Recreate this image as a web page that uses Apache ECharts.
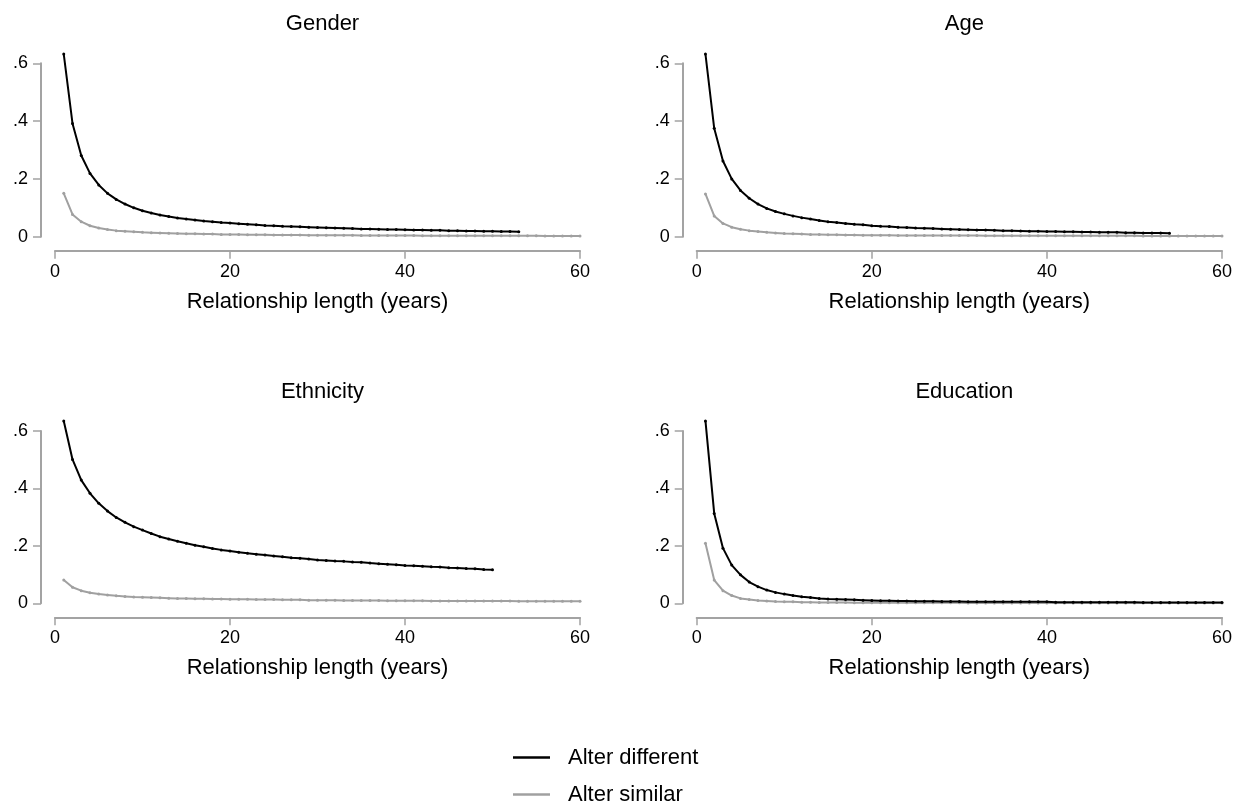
<!DOCTYPE html>
<html>
<head>
<meta charset="utf-8">
<script src="https://cdn.jsdelivr.net/npm/echarts@6/dist/echarts.min.js"></script>
<style>
html,body{margin:0;padding:0;background:#fff;}
#chart{width:1239px;height:805px;}
</style>
</head>
<body>
<div id="chart"></div>
<script>
// ---- Data (x = relationship length in years, starting at 1) ----
var panelTitles = ["Gender", "Age", "Ethnicity", "Education"];
var seriesNames = ["Alter different", "Alter similar"];
var xTicks = [0, 20, 40, 60];
var yTicks = [0, 0.2, 0.4, 0.6];
var yTickLabels = ["0", ".2", ".4", ".6"];

var genderDifferent = [0.632,0.392,0.281,0.219,0.179,0.150,0.129,0.113,0.100,0.090,
  0.082,0.075,0.070,0.065,0.061,0.058,0.054,0.052,0.049,0.047,
  0.045,0.043,0.041,0.039,0.038,0.036,0.035,0.034,0.033,0.032,
  0.031,0.030,0.029,0.028,0.027,0.027,0.026,0.025,0.025,0.024,
  0.023,0.023,0.022,0.022,0.021,0.021,0.020,0.020,0.019,0.019,
  0.018,0.018,0.017];
var genderSimilar = [0.150,0.077,0.052,0.038,0.030,0.025,0.021,0.019,0.017,0.015,
  0.014,0.013,0.012,0.011,0.010,0.010,0.009,0.009,0.008,0.008,
  0.008,0.007,0.007,0.007,0.006,0.006,0.006,0.006,0.005,0.005,
  0.005,0.005,0.005,0.005,0.004,0.004,0.004,0.004,0.004,0.004,
  0.004,0.003,0.003,0.003,0.003,0.003,0.003,0.003,0.003,0.003,
  0.003,0.003,0.003,0.003,0.003,0.002,0.002,0.002,0.002,0.002];

var ageDifferent = [0.632,0.375,0.262,0.200,0.160,0.133,0.113,0.098,0.087,0.079,
  0.072,0.066,0.061,0.056,0.052,0.049,0.046,0.043,0.041,0.038,
  0.036,0.035,0.033,0.032,0.030,0.029,0.028,0.027,0.026,0.025,
  0.024,0.023,0.023,0.022,0.021,0.021,0.020,0.019,0.019,0.018,
  0.018,0.017,0.017,0.016,0.016,0.015,0.015,0.015,0.014,0.014,
  0.013,0.013,0.013,0.012];
var ageSimilar = [0.148,0.072,0.046,0.033,0.026,0.021,0.018,0.015,0.013,0.011,
  0.010,0.009,0.008,0.008,0.007,0.007,0.006,0.006,0.005,0.005,
  0.005,0.005,0.004,0.004,0.004,0.004,0.004,0.004,0.004,0.004,
  0.004,0.004,0.003,0.003,0.003,0.003,0.003,0.003,0.003,0.003,
  0.003,0.003,0.003,0.003,0.003,0.003,0.003,0.003,0.003,0.003,
  0.002,0.002,0.002,0.002,0.002,0.002,0.002,0.002,0.002,0.002];

var ethnicityDifferent = [0.635,0.501,0.429,0.383,0.348,0.321,0.299,0.282,0.267,0.255,
  0.243,0.232,0.224,0.216,0.209,0.202,0.197,0.191,0.186,0.182,
  0.178,0.174,0.171,0.168,0.165,0.162,0.159,0.157,0.154,0.151,
  0.149,0.147,0.146,0.144,0.143,0.140,0.138,0.136,0.134,0.132,
  0.131,0.129,0.127,0.126,0.124,0.123,0.121,0.120,0.118,0.117];
var ethnicitySimilar = [0.081,0.056,0.044,0.037,0.032,0.029,0.026,0.024,0.022,0.021,
  0.020,0.019,0.018,0.017,0.017,0.016,0.016,0.015,0.015,0.014,
  0.014,0.014,0.013,0.013,0.013,0.012,0.012,0.012,0.011,0.011,
  0.011,0.011,0.010,0.010,0.010,0.010,0.010,0.009,0.009,0.009,
  0.009,0.009,0.008,0.008,0.008,0.008,0.008,0.008,0.008,0.008,
  0.008,0.008,0.007,0.007,0.007,0.007,0.007,0.007,0.007,0.007];

var educationDifferent = [0.635,0.313,0.192,0.133,0.099,0.074,0.058,0.046,0.038,0.032,
  0.027,0.023,0.020,0.017,0.015,0.014,0.013,0.012,0.011,0.010,
  0.009,0.009,0.008,0.008,0.007,0.007,0.007,0.006,0.006,0.006,
  0.005,0.005,0.005,0.005,0.005,0.005,0.005,0.005,0.005,0.005,
  0.004,0.004,0.004,0.004,0.004,0.004,0.004,0.004,0.004,0.004,
  0.003,0.003,0.003,0.003,0.003,0.003,0.003,0.003,0.003,0.003];
var educationSimilar = [0.209,0.081,0.044,0.027,0.017,0.013,0.010,0.008,0.006,0.005,
  0.005,0.004,0.004,0.003,0.003,0.003,0.003,0.002,0.002,0.002,
  0.002,0.002,0.002,0.002,0.002,0.002,0.002,0.002,0.002,0.002,
  0.001,0.001,0.001,0.001,0.001,0.001,0.001,0.001,0.001,0.001,
  0.001,0.001,0.001,0.001,0.001,0.001,0.001,0.001,0.001,0.001,
  0.001,0.001,0.001,0.001,0.001,0.001,0.001,0.001,0.001,0.001];

var panelDifferent = [genderDifferent, ageDifferent, ethnicityDifferent, educationDifferent];
var panelSimilar = [genderSimilar, ageSimilar, ethnicitySimilar, educationSimilar];

// ---- Layout / styling ----
var FONT = '"Liberation Sans", Arial, Helvetica, sans-serif';
var AXIS_GRAY = '#a3a3a3';
var SIMILAR_GRAY = '#a0a0a0';
var grids = [
  {left: 55, top: 63.3, width: 525, height: 173.4},
  {left: 696.7, top: 63.3, width: 525.3, height: 173.4},
  {left: 55, top: 431, width: 525, height: 172.3},
  {left: 696.7, top: 431, width: 525.3, height: 172.3}
];
var titleTops = [8, 8, 376, 376];

function toPairs(arr) {
  return arr.map(function (v, i) { return [i + 1, v]; });
}

var option = {
  backgroundColor: '#ffffff',
  animation: false,
  textStyle: {fontFamily: FONT},
  title: panelTitles.map(function (t, i) {
    return {
      text: t,
      left: grids[i].left + grids[i].width / 2,
      top: titleTops[i],
      textAlign: 'center',
      textStyle: {fontFamily: FONT, fontSize: 22, fontWeight: 'normal', color: '#000'}
    };
  }),
  legend: {
    data: seriesNames,
    orient: 'vertical',
    left: 513,
    top: 745,
    height: 120,
    padding: 0,
    itemWidth: 37,
    itemHeight: 2.5,
    itemGap: 12,
    icon: 'rect',
    textStyle: {fontFamily: FONT, fontSize: 22, color: '#000', lineHeight: 25, padding: [0, 0, 0, 13]}
  },
  grid: grids.map(function (g) {
    return {left: g.left, top: g.top, width: g.width, height: g.height, containLabel: false};
  }),
  xAxis: grids.map(function (g, i) {
    return {
      type: 'value',
      gridIndex: i,
      min: xTicks[0],
      max: xTicks[xTicks.length - 1],
      interval: 20,
      position: 'bottom',
      offset: 14,
      name: 'Relationship length (years)',
      nameLocation: 'middle',
      nameGap: 40,
      nameTextStyle: {fontFamily: FONT, fontSize: 22, color: '#000'},
      axisLine: {show: true, onZero: false, lineStyle: {color: AXIS_GRAY, width: 2}},
      axisTick: {show: true, length: 8, lineStyle: {color: AXIS_GRAY, width: 1.5}},
      axisLabel: {fontFamily: FONT, fontSize: 18, color: '#000', margin: 12},
      splitLine: {show: false}
    };
  }),
  yAxis: grids.map(function (g, i) {
    return {
      type: 'value',
      gridIndex: i,
      min: yTicks[0],
      max: yTicks[yTicks.length - 1],
      interval: 0.2,
      position: 'left',
      offset: 14,
      axisLine: {show: true, onZero: false, lineStyle: {color: AXIS_GRAY, width: 2}},
      axisTick: {show: true, length: 8, lineStyle: {color: AXIS_GRAY, width: 1.5}},
      axisLabel: {
        fontFamily: FONT, fontSize: 18, color: '#000', margin: 13,
        formatter: function (v) {
          var idx = yTicks.findIndex(function (t) { return Math.abs(t - v) < 1e-9; });
          return idx >= 0 ? yTickLabels[idx] : '';
        }
      },
      splitLine: {show: false}
    };
  }),
  series: []
};

for (var p = 0; p < 4; p++) {
  option.series.push({
    name: seriesNames[1],
    type: 'line',
    xAxisIndex: p, yAxisIndex: p,
    data: toPairs(panelSimilar[p]),
    clip: false,
    z: 2,
    showSymbol: true, showAllSymbol: true,
    symbol: 'circle', symbolSize: 3,
    lineStyle: {color: SIMILAR_GRAY, width: 2},
    itemStyle: {color: SIMILAR_GRAY},
    emphasis: {disabled: true}
  });
  option.series.push({
    name: seriesNames[0],
    type: 'line',
    xAxisIndex: p, yAxisIndex: p,
    data: toPairs(panelDifferent[p]),
    clip: false,
    z: 3,
    showSymbol: true, showAllSymbol: true,
    symbol: 'circle', symbolSize: 3,
    lineStyle: {color: '#000000', width: 2},
    itemStyle: {color: '#000000'},
    emphasis: {disabled: true}
  });
}

var chart = echarts.init(document.getElementById('chart'), null, {renderer: 'canvas'});
chart.setOption(option);
</script>
</body>
</html>
